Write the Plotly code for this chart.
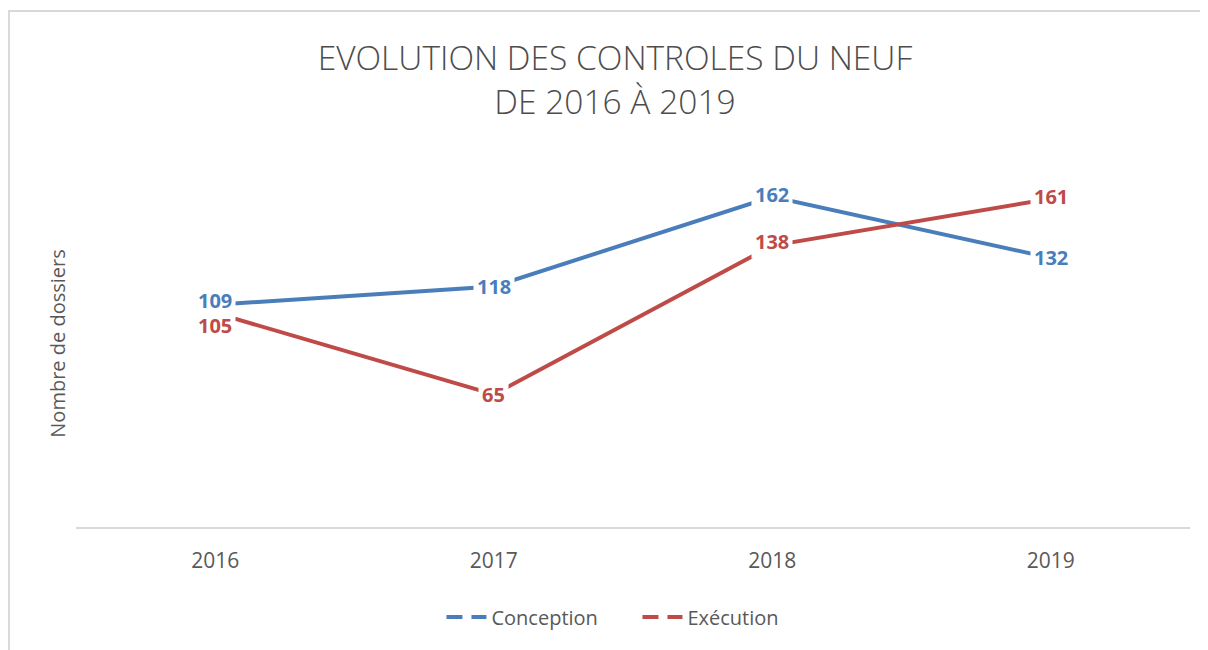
import plotly.graph_objects as go

years = ["2016", "2017", "2018", "2019"]
conception = [109, 118, 162, 132]
execution = [105, 65, 138, 161]
series_names = ["Conception", "Exécution"]
colors = ["#4A7EBB", "#BE4B48"]
label_yshift = {"Conception": [4, 0, 2, 0], "Exécution": [-13, 0, 4, 2]}

FONT = "Open Sans"
fig = go.Figure()
for name, vals, col in zip(series_names, [conception, execution], colors):
    fig.add_trace(go.Scatter(x=years, y=vals, mode="lines", name=name,
                             line=dict(color=col, width=4), showlegend=False,
                             hoverinfo="skip"))
    fig.add_trace(go.Scatter(x=[None], y=[None], mode="lines", name=name,
                             line=dict(color=col, width=4, dash="16px,9px")))
    for i, v in enumerate(vals):
        fig.add_annotation(x=i, y=v, text=str(v), showarrow=False,
                           bgcolor="white", borderpad=3,
                           yshift=label_yshift[name][i],
                           font=dict(family=FONT, size=20, color=col, weight="bold"))

fig.add_shape(type="rect", xref="paper", yref="paper", x0=-0.0601, x1=1.03,
              y0=-0.40, y1=1.406, line=dict(color="#D9D9D9", width=2), layer="below")

fig.update_layout(
    width=1208, height=650,
    margin=dict(l=68, r=26, t=152, b=131),
    paper_bgcolor="white", plot_bgcolor="white",
    title=dict(text="EVOLUTION DES CONTROLES DU NEUF<br>DE 2016 À 2019",
               x=607 / 1208, xref="container", xanchor="center",
               y=1 - 62 / 650, yref="container", yanchor="middle",
               font=dict(family=FONT, size=33.5, color="#4D4D4D", weight=300)),
    xaxis=dict(type="category", range=[-0.5, 3.5], showgrid=False,
               showline=True, linecolor="#D9D9D9", linewidth=2,
               ticks="", tickfont=dict(family=FONT, size=21, color="#595959"),
               ticklabelstandoff=14, zeroline=False),
    yaxis=dict(range=[0, 180], showgrid=False, showticklabels=False,
               zeroline=False, showline=False,
               title=dict(text="Nombre de dossiers", standoff=4,
                          font=dict(family=FONT, size=20, color="#595959"))),
    legend=dict(orientation="h", x=0.504, xanchor="center", y=-0.245,
                yanchor="middle", font=dict(family=FONT, size=20, color="#595959"),
                itemwidth=40, entrywidth=141, tracegroupgap=0),
    showlegend=True,
)
fig.write_html("out.html")
